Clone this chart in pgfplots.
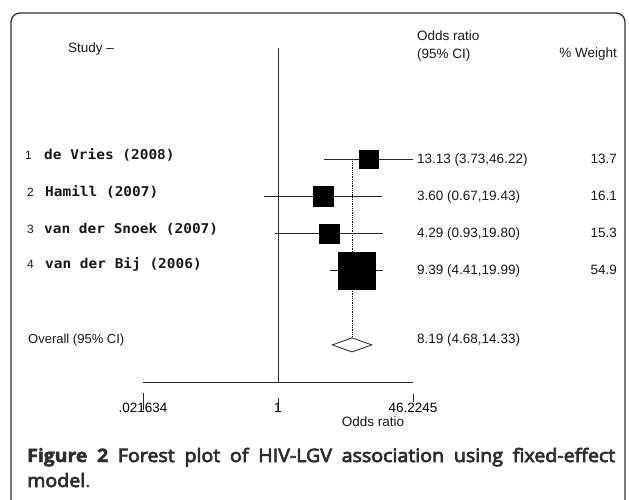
\documentclass[border=0pt]{standalone}
\usepackage{fontspec}
\usepackage{pgfplots}
\pgfplotsset{compat=1.18}
\setmainfont{Liberation Sans}
\newfontfamily\monob[FakeStretch=1.07]{DejaVu Sans Mono}
\newfontfamily\capfont[FakeStretch=1.06]{Open Sans}
\newfontfamily\capbold[FakeBold=2.5,FakeStretch=1.05]{Open Sans}
\newfontfamily\capsemi[FakeBold=4,FakeStretch=1.06]{Open Sans}
\newcommand\st{\fontsize{13.5}{16}\selectfont}
\newcommand\nm{\monob\bfseries\fontsize{13.5}{16}\selectfont}
\begin{document}
\begin{tikzpicture}
\useasboundingbox (0,0) rectangle (629pt,499pt);
\begin{axis}[
  at={(143pt,117pt)}, anchor=south west,
  scale only axis, width=270pt, height=334pt,
  xmode=log, xmin=0.021634, xmax=46.2245,
  ymin=-2, ymax=7, y dir=reverse,
  axis x line*=bottom, axis y line=none,
  axis line style={-, line width=1pt, black!85},
  xtick={0.021634,1,46.2245},
  xticklabels={.021634,1,46.2245},
  major tick length=0pt,
  xticklabel style={font=\st, anchor=base, yshift=-30pt, inner sep=0pt},
  clip=false,
]
% reference line at OR = 1
\draw[black!85, line width=0.9pt] (axis cs:1,-2) -- (axis cs:1,7);
% overall effect dotted line
\addplot[black, densely dotted, line width=0.8pt] coordinates {(8.19,1) (8.19,5.81)};
% confidence intervals
\addplot[black!85, line width=0.9pt] coordinates {(3.73,1) (46.22,1)};
\addplot[black!85, line width=0.9pt] coordinates {(0.67,2) (19.43,2)};
\addplot[black!85, line width=0.9pt] coordinates {(0.93,3) (19.80,3)};
\addplot[black!85, line width=0.9pt] coordinates {(4.41,4) (19.99,4)};
% weighted boxes
\addplot[only marks, mark=square*, scatter,
  scatter/use mapped color={draw=black, fill=black},
  visualization depends on={2.5*sqrt(\thisrow{w})\as\msz},
  scatter/@pre marker code/.append style={/tikz/mark size=\msz}]
  table {
x y w
13.13 1 13.7
3.60 2 16.1
4.29 3 15.3
9.39 4 54.9
};
% overall diamond
\addplot[black!85, fill=white, line width=0.8pt] coordinates {(4.68,6) (8.19,5.81) (14.33,6) (8.19,6.19)} -- cycle;
\end{axis}
\begin{scope}[x=1pt, y=-1pt, yshift=499pt]
\draw[rounded corners=9pt, line width=1.3pt, black!80] (11,530) -- (11,13) -- (625,13) -- (625,530);
% tick marks (offset below the axis line, as in the original)
\draw[black!85, line width=0.8pt] (143,393) -- (143,410);
\draw[black!85, line width=0.8pt] (278,398) -- (278,412);
\draw[black!85, line width=0.8pt] (413.5,394) -- (413.5,402);
\begin{scope}[every node/.style={inner sep=0pt, text=black!90}]
\node[anchor=base west, font=\st] at (68,53) {Study –};
\node[anchor=base west, font=\st] at (417,41) {Odds ratio};
\node[anchor=base west, font=\st] at (417,59) {(95\% CI)};
\node[anchor=base east, font=\st] at (617,58) {\% Weight};
% study labels
\node[anchor=base west, font=\fontsize{12}{14}\selectfont] at (25,159.3) {1};
\node[anchor=base west, font=\nm] at (44,159.3) {de Vries (2008)};
\node[anchor=base west, font=\fontsize{12}{14}\selectfont] at (27,196.4) {2};
\node[anchor=base west, font=\nm] at (45,196.4) {Hamill (2007)};
\node[anchor=base west, font=\fontsize{12}{14}\selectfont] at (27,233.6) {3};
\node[anchor=base west, font=\nm] at (44,233.6) {van der Snoek (2007)};
\node[anchor=base west, font=\fontsize{12}{14}\selectfont] at (27,268.7) {4};
\node[anchor=base west, font=\nm] at (45,268.7) {van der Bij (2006)};
\node[anchor=base west, font=\fontsize{13}{15}\selectfont] at (28,343) {Overall (95\% CI)};
% estimates
\node[anchor=base west, font=\st] at (417,163.3) {13.13 (3.73,46.22)};
\node[anchor=base west, font=\st] at (417,200.4) {3.60 (0.67,19.43)};
\node[anchor=base west, font=\st] at (417,237.6) {4.29 (0.93,19.80)};
\node[anchor=base west, font=\st] at (417,274.7) {9.39 (4.41,19.99)};
\node[anchor=base west, font=\st] at (417,343) {8.19 (4.68,14.33)};
% weights
\node[anchor=base east, font=\st] at (617,163.3) {13.7};
\node[anchor=base east, font=\st] at (617,200.4) {16.1};
\node[anchor=base east, font=\st] at (617,237.6) {15.3};
\node[anchor=base east, font=\st] at (617,274.7) {54.9};
% x label
\node[anchor=base, font=\st] at (373,426) {Odds ratio};
\end{scope}
% caption
\node[anchor=base west, inner sep=0pt, text=black!82, font=\fontsize{18.5}{24}\selectfont] at (27,462)
  {\makebox[588pt][s]{\capbold\bfseries Figure 2 \capsemi\mdseries Forest plot of HIV-LGV association using fixed-effect}};
\node[anchor=base west, inner sep=0pt, text=black!82, font=\capsemi\fontsize{18.5}{24}\selectfont] at (27,487) {model\capfont.};
\end{scope}
\end{tikzpicture}
\end{document}
